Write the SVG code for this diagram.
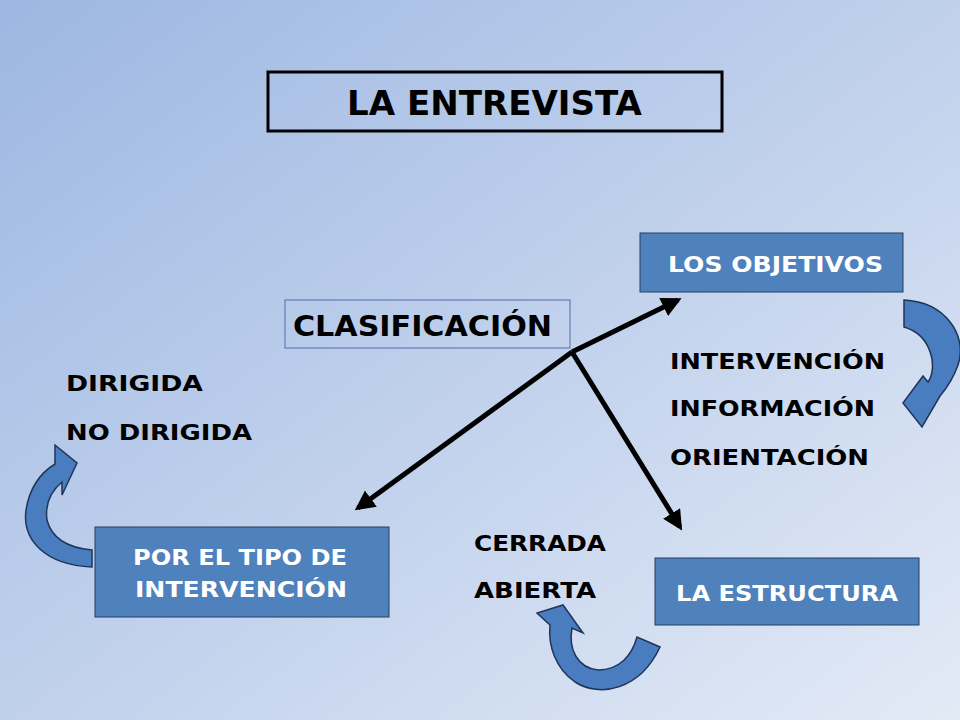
<svg xmlns="http://www.w3.org/2000/svg" width="960" height="720" viewBox="0 0 960 720">
<defs>
<linearGradient id="bg" x1="0" y1="0" x2="1" y2="1"><stop offset="0" stop-color="#9db7e2"/><stop offset="1" stop-color="#e3eaf6"/></linearGradient>
<marker id="ah" viewBox="0 0 10 10" refX="8" refY="5" markerWidth="4" markerHeight="4" orient="auto"><path d="M0,0 L10,5 L0,10 Z" fill="#000"/></marker>
<style>
text{font-family:"DejaVu Sans","Liberation Sans",sans-serif;font-weight:bold;}
.box{fill:#4f81bd;stroke:#243f60;stroke-width:1}
.w{fill:#fff;font-size:21px}
.k{fill:#000;font-size:21px}
.ca{fill:#4a7cc0;stroke:#1f3558;stroke-width:1.5}
.ln{stroke:#000;stroke-width:5;fill:none;marker-end:url(#ah)}
</style>
</defs>
<rect width="960" height="720" fill="url(#bg)"/>
<g id="title"><rect x="268" y="72" width="454" height="59" fill="none" stroke="#000" stroke-width="3"/><text x="347" y="115" font-size="33" textLength="295" lengthAdjust="spacingAndGlyphs">LA ENTREVISTA</text></g>
<g id="clasificacion"><rect x="285" y="300" width="285" height="48" fill="none" stroke="#4f6fa8" stroke-width="1"/><text x="293" y="336" font-size="28" textLength="259" lengthAdjust="spacingAndGlyphs">CLASIFICACIÓN</text></g>
<g id="objetivos"><rect class="box" x="640" y="233" width="263" height="59"/><text class="w" x="668" y="272" textLength="215" lengthAdjust="spacingAndGlyphs">LOS OBJETIVOS</text></g>
<g id="tipo"><rect class="box" x="95" y="527" width="294" height="90"/><text class="w" x="133" y="565" textLength="214" lengthAdjust="spacingAndGlyphs">POR EL TIPO DE</text><text class="w" x="135" y="597" textLength="212" lengthAdjust="spacingAndGlyphs">INTERVENCIÓN</text></g>
<g id="estructura"><rect class="box" x="655" y="558" width="264" height="67"/><text class="w" x="676" y="601" textLength="222" lengthAdjust="spacingAndGlyphs">LA ESTRUCTURA</text></g>
<g id="labels">
<text class="k" x="670" y="369" textLength="215" lengthAdjust="spacingAndGlyphs">INTERVENCIÓN</text><text class="k" x="670" y="416" textLength="205" lengthAdjust="spacingAndGlyphs">INFORMACIÓN</text><text class="k" x="670" y="465" textLength="199" lengthAdjust="spacingAndGlyphs">ORIENTACIÓN</text>
<text class="k" x="66" y="391" textLength="137" lengthAdjust="spacingAndGlyphs">DIRIGIDA</text><text class="k" x="66" y="440" textLength="186" lengthAdjust="spacingAndGlyphs">NO DIRIGIDA</text>
<text class="k" x="474" y="551" textLength="132" lengthAdjust="spacingAndGlyphs">CERRADA</text><text class="k" x="474" y="598" textLength="122" lengthAdjust="spacingAndGlyphs">ABIERTA</text>
</g>
<g id="connectors">
<line class="ln" x1="572" y1="352" x2="678" y2="300"/>
<line class="ln" x1="572" y1="352" x2="358" y2="508"/>
<line class="ln" x1="572" y1="352" x2="680" y2="527"/>
<path class="ca" d="M904,300 C945,302 968,335 958,365 C952,382 945,390 940,396 L922,427 L903,403 L923,376 L928,382 C938,368 932,335 904,327 Z"/>
<path class="ca" d="M92,567 C45,565 22,540 26,510 C30,485 42,472 55,464 L55,445 L77,463 L62,495 L62,482 C50,492 45,505 47,520 C52,540 70,548 92,550 Z"/>
<path class="ca" d="M660,647 C640,690 600,698 575,682 C555,668 548,645 550,625 L537,613 L563,605 L583,633 L572,628 C568,650 578,668 598,670 C620,670 632,655 637,637 Z"/>
</g>
</svg>
